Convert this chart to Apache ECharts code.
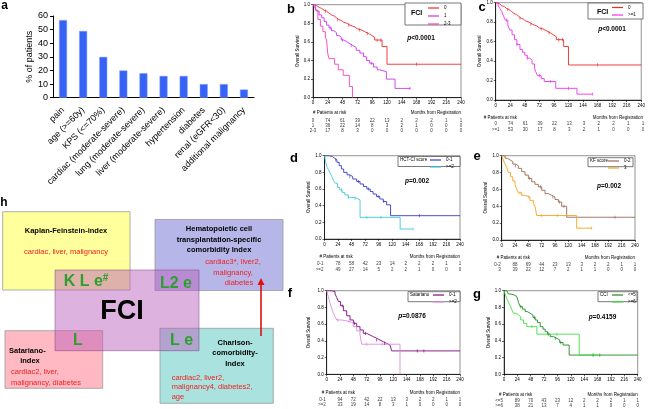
<!DOCTYPE html>
<html><head><meta charset="utf-8">
<script src="https://cdn.jsdelivr.net/npm/echarts/dist/echarts.min.js"></script>
<style>html,body{margin:0;padding:0;background:#fff}#c{width:648px;height:409px}</style>
</head><body><div id="c"></div>
<script>
// ---------------- DATA ----------------
const barCategories = ['pain','age (>=60y)','KPS (<=70%)','cardiac (moderate-severe)','lung (moderate-severe)','liver (moderate-severe)','hypertension','diabetes','renal (eGFR<30)','additional malignancy'];
const barValues = [57,49,30,20,18,16,16,10,10,6];

const monthTicks = [0,24,48,72,96,120,144,168,192,216,240];

// Kaplan-Meier step curves: [months, survival]
const kmB0 = [[0,1],[3,0.99],[6,0.97],[10,0.96],[14,0.94],[18,0.93],[22,0.91],[26,0.89],[30,0.88],[34,0.86],[38,0.84],[42,0.83],[46,0.81],[50,0.80],[55,0.78],[60,0.77],[64,0.76],[68,0.74],[72,0.73],[78,0.71],[84,0.69],[90,0.67],[95,0.65],[100,0.62],[112,0.55],[120,0.36],[240,0.36]];
const kmB1 = [[0,1],[3,0.97],[6,0.93],[10,0.89],[14,0.86],[18,0.82],[22,0.78],[26,0.75],[30,0.72],[34,0.70],[38,0.67],[42,0.65],[46,0.62],[50,0.60],[55,0.58],[60,0.56],[65,0.54],[70,0.51],[76,0.48],[82,0.44],[87,0.40],[92,0.37],[98,0.33],[104,0.30],[108,0.28],[119,0.20],[133,0.10],[158,0.10]];
const kmB2 = [[0,1],[4,0.94],[8,0.84],[12,0.77],[16,0.71],[20,0.65],[22,0.62],[24,0.47],[26,0.42],[35,0.36],[41,0.30],[49,0.24],[59,0.12],[64,0]];
const kmC1 = [[0,1],[4,0.97],[7,0.94],[10,0.91],[13,0.86],[16,0.82],[20,0.77],[23,0.72],[27,0.67],[31,0.62],[35,0.57],[40,0.52],[44,0.49],[48,0.46],[52,0.43],[56,0.41],[60,0.37],[64,0.33],[66,0.29],[69,0.25],[75,0.22],[80,0.19],[99,0.12],[134,0.06],[160,0.06]];
const kmD0 = [[0,1],[8,0.99],[14,0.97],[18,0.95],[22,0.92],[26,0.88],[30,0.84],[34,0.80],[40,0.77],[45,0.75],[50,0.72],[57,0.69],[63,0.66],[69,0.63],[75,0.60],[81,0.57],[86,0.54],[92,0.51],[98,0.48],[104,0.45],[110,0.41],[117,0.28],[240,0.28]];
const kmD1 = [[0,1],[2,0.93],[4,0.87],[7,0.83],[10,0.79],[13,0.75],[16,0.70],[19,0.67],[23,0.62],[27,0.59],[31,0.56],[36,0.53],[42,0.50],[48,0.49],[57,0.47],[63,0.26],[134,0.12],[157,0.12]];
const kmE0 = [[0,1],[6,0.97],[10,0.95],[15,0.93],[20,0.90],[25,0.88],[30,0.85],[36,0.81],[42,0.77],[48,0.73],[54,0.69],[60,0.66],[66,0.63],[72,0.59],[78,0.55],[84,0.53],[90,0.51],[96,0.48],[102,0.45],[108,0.40],[117,0.27],[240,0.27]];
const kmE1 = [[0,1],[3,0.95],[6,0.90],[9,0.86],[12,0.80],[16,0.75],[20,0.70],[24,0.66],[27,0.60],[30,0.56],[36,0.53],[42,0.51],[51,0.47],[57,0.43],[60,0.40],[63,0.29],[135,0.14],[162,0.14]];
const kmF0 = [[0,1],[8,0.99],[15,0.96],[18,0.92],[21,0.87],[25,0.82],[30,0.76],[36,0.70],[42,0.65],[48,0.61],[54,0.57],[60,0.53],[66,0.49],[72,0.47],[78,0.45],[84,0.43],[90,0.41],[96,0.39],[102,0.37],[108,0.35],[114,0.33],[117,0.28],[240,0.28]];
const kmF1 = [[0,1],[3,0.93],[6,0.85],[9,0.79],[12,0.73],[15,0.69],[18,0.65],[27,0.63],[42,0.61],[48,0.57],[54,0.52],[60,0.47],[63,0.36],[132,0]];
const kmG0 = [[0,1],[5,0.98],[8,0.96],[12,0.95],[18,0.93],[23,0.91],[26,0.86],[29,0.81],[33,0.78],[38,0.75],[42,0.73],[47,0.71],[52,0.68],[56,0.65],[60,0.62],[65,0.57],[70,0.54],[74,0.51],[78,0.48],[83,0.45],[89,0.43],[95,0.41],[100,0.38],[106,0.35],[117,0.23],[240,0.23]];
const kmG1 = [[0,1],[3,0.94],[6,0.89],[9,0.85],[12,0.81],[15,0.76],[17,0.73],[22,0.71],[26,0.69],[30,0.65],[35,0.61],[41,0.57],[59,0.48],[135,0.23],[169,0.23]];

// censoring times (months)
const cenB0 = [20,40,58,75,88,104,110,168];
const cenB1 = [28,48,62,95,157];
const cenB2 = [];
const cenC1 = [18,35,52,72,90,120,160];
const cenD0 = [20,45,60,78,95,105,168];
const cenD1 = [30,42,54,75,100,157];
const cenE0 = [25,50,70,92,104,112,204];
const cenE1 = [33,48,72,100,162];
const cenF0 = [28,50,70,90,104,163,175];
const cenF1 = [20,40,72,100];
const cenG0 = [30,55,80,92,102,160,172];
const cenG1 = [50,95,160];

// groups and numbers at risk
const groupsB = ['0','1','2-3'];
const groupsC = ['0','>=1'];
const groupsD = ['0-1','>=2'];
const groupsE = ['0-2','3'];
const groupsF = ['0-1','>=2'];
const groupsG = ['<=5','>=6'];
const riskB0 = [74,61,39,22,13,2,2,2,1,1];
const riskB1 = [36,22,14,8,3,2,1,0,0,0];
const riskB2 = [17,8,3,0,0,0,0,0,0,0];
const riskC0 = [74,61,39,22,13,3,2,2,1,1];
const riskC1 = [53,30,17,8,3,2,1,0,0,0];
const riskD0 = [78,58,42,23,14,2,2,2,1,1];
const riskD1 = [49,27,14,5,2,2,1,0,0,0];
const riskE0 = [88,69,44,23,13,3,2,2,1,1];
const riskE1 = [39,22,12,7,2,1,1,0,0,0];
const riskF0 = [94,72,42,22,13,3,2,2,1,1];
const riskF1 = [33,19,14,8,3,1,0,0,0,0];
const riskG0 = [89,70,43,23,12,2,2,2,1,1];
const riskG1 = [38,21,13,7,4,1,1,0,0,0];

const legendTitles = ['FCI','FCI','HCT-CI score','KF score','Satariano','CCI'];
const pTexts = ['<0.0001','<0.0001','=0.002','=0.002','=0.0876','=0.4159'];

// ---------------- LAYOUT / STYLE ----------------
const FONT = '"Liberation Sans", Arial, sans-serif';
const panels = [
 {id:'b', curves:[kmB0,kmB1,kmB2], cens:[cenB0,cenB1,cenB2], groups:groupsB, risk:[riskB0,riskB1,riskB2],
  colors:['#ee2a2a','#cc33ee','#ee44bb'], grid:{left:313,top:4.7,width:148,height:93}, nameGap:13,
  riskTop:118, riskRow:5, labAlign:'center', hdrY:113, letter:[291,9],
  box:[405,3,56,22], boxTitle:[411,13,7,'bold'], leg:[428,5.5,3], p:[421,38]},
 {id:'c', curves:[kmB0,kmC1], cens:[cenB0,cenC1], groups:groupsC, risk:[riskC0,riskC1],
  colors:['#ee2a2a','#ee33ee'], grid:{left:495.7,top:2.7,width:147.3,height:97.3}, nameGap:13,
  riskTop:121.5, riskRow:5.5, labAlign:'center', hdrY:118, letter:[482,7],
  box:[588,3,55,16], boxTitle:[597,12,7,'bold'], leg:[612,5,2.5], p:[612,29]},
 {id:'d', curves:[kmD0,kmD1], cens:[cenD0,cenD1], groups:groupsD, risk:[riskD0,riskD1],
  colors:['#3a3ac8','#40c8dc'], grid:{left:324.5,top:155.7,width:135.5,height:83.3}, nameGap:13,
  riskTop:261.5, riskRow:5.5, labAlign:'right', hdrY:256.7, letter:[294,158],
  box:[398,156.5,62,10], boxTitle:[400,159.5,4.5,'normal'], leg:[430,157.5,2], p:[417,181.7]},
 {id:'e', curves:[kmE0,kmE1], cens:[cenE0,cenE1], groups:groupsE, risk:[riskE0,riskE1],
  colors:['#9a6a55','#f2a41c'], grid:{left:501.7,top:155.7,width:133.3,height:84.3}, nameGap:12,
  riskTop:262, riskRow:5.5, labAlign:'right', hdrY:257.7, letter:[477,156],
  box:[588,157.7,45,9], boxTitle:[590,160.5,4.5,'normal'], leg:[608,158.5,2], p:[609,186.7]},
 {id:'f', curves:[kmF0,kmF1], cens:[cenF0,cenF1], groups:groupsF, risk:[riskF0,riskF1],
  colors:['#7a0a7a','#dc8cdc'], grid:{left:326.7,top:290.7,width:133.3,height:83.6}, nameGap:15,
  riskTop:396.5, riskRow:5.7, labAlign:'right', hdrY:392.7, letter:[290,293],
  box:[408,291.7,52,10], boxTitle:[410,294.5,4.5,'normal'], leg:[433,292.5,2], p:[412,316.7]},
 {id:'g', curves:[kmG0,kmG1], cens:[cenG0,cenG1], groups:groupsG, risk:[riskG0,riskG1],
  colors:['#1f8a1f','#44dd44'], grid:{left:504,top:290.7,width:133.7,height:83.6}, nameGap:13,
  riskTop:398.5, riskRow:5, labAlign:'right', hdrY:394.5, letter:[477,294],
  box:[598,291.7,39,10], boxTitle:[600,295,4.5,'normal'], leg:[612,292.5,2], p:[602.5,317.3]}
];

function survAt(curve, t){ let s = curve[0][1]; for (const p of curve){ if (p[0] <= t) s = p[1]; } return s; }

const grid = [], xAxis = [], yAxis = [], series = [], legend = [], graphic = [];

// ---- panel a (bar chart)
grid.push({left:53, top:16, width:201, height:81.7});
xAxis.push({gridIndex:0, type:'category', data:barCategories,
  axisLine:{lineStyle:{color:'#000',width:1}}, axisTick:{length:3,lineStyle:{color:'#000'}},
  axisLabel:{rotate:45, fontSize:9, color:'#000', margin:11, interval:0, fontFamily:FONT}});
yAxis.push({gridIndex:0, type:'value', min:0, max:60, interval:10,
  axisLine:{show:true,lineStyle:{color:'#000',width:1}}, axisTick:{show:true,length:3,lineStyle:{color:'#000'}},
  axisLabel:{fontSize:9,color:'#000',margin:5,fontFamily:FONT}, splitLine:{show:false},
  name:'% of patients', nameLocation:'middle', nameGap:19, nameTextStyle:{fontSize:9,color:'#000',fontFamily:FONT}});
series.push({type:'bar', xAxisIndex:0, yAxisIndex:0, data:barValues, barWidth:8,
  itemStyle:{color:'#3663f5', borderColor:'#86a0ff', borderWidth:0.5}});

// ---- KM panels
panels.forEach((P, i) => {
  const k = 1 + i, r = 7 + i;
  grid[k] = Object.assign({show:true, borderColor:'#666', borderWidth:0.7, backgroundColor:'transparent'}, P.grid);
  xAxis[k] = {gridIndex:k, type:'value', min:0, max:240, interval:24,
    axisLine:{show:true,onZero:false,lineStyle:{color:'#000',width:0.8}}, axisTick:{show:true,length:2,lineStyle:{color:'#000',width:0.6}},
    axisLabel:{fontSize:4.5,color:'#000',margin:3,fontFamily:FONT}, splitLine:{show:false}};
  yAxis[k] = {gridIndex:k, type:'value', min:0, max:1, interval:0.2,
    axisLine:{show:true,onZero:false,lineStyle:{color:'#000',width:0.8}}, axisTick:{show:true,length:2,lineStyle:{color:'#000',width:0.6}},
    axisLabel:{fontSize:4.5,color:'#000',margin:3,fontFamily:FONT, formatter:v=>v.toFixed(1)}, splitLine:{show:false},
    name:'Overall Survival', nameLocation:'middle', nameGap:P.nameGap, nameTextStyle:{fontSize:4.5,color:'#000',fontFamily:FONT}};
  const nRows = P.groups.length;
  grid[r] = {left:P.grid.left, width:P.grid.width, top:P.riskTop, height:nRows*P.riskRow};
  xAxis[r] = {gridIndex:r, type:'value', min:0, max:240, show:false};
  yAxis[r] = {gridIndex:r, type:'category', data:P.groups, inverse:true, show:false};

  P.curves.forEach((c, j) => {
    const nm = P.id + ':' + P.groups[j];
    series.push({type:'line', name:nm, xAxisIndex:k, yAxisIndex:k, data:c, step:'end', symbol:'none',
      lineStyle:{color:P.colors[j], width:0.9}, itemStyle:{color:P.colors[j]}, silent:true, z:3});
    series.push({type:'scatter', name:nm + ':cens', xAxisIndex:k, yAxisIndex:k,
      data:P.cens[j].map(t => [t, survAt(c, t)]), symbol:'rect', symbolSize:[0.8,3.2],
      itemStyle:{color:P.colors[j]}, silent:true, z:4});
  });

  const rdata = [];
  P.groups.forEach((g, ri) => {
    rdata.push({value:[0, ri], label:{formatter:g, align:P.labAlign, offset:[P.labAlign==='right'?-1:0,0]}});
    P.risk[ri].forEach((v, vi) => rdata.push({value:[monthTicks[vi+1], ri], label:{formatter:String(v)}}));
  });
  series.push({type:'scatter', xAxisIndex:r, yAxisIndex:r, data:rdata, symbolSize:0, silent:true,
    label:{show:true, position:'inside', fontSize:4.5, color:'#000', fontFamily:FONT}});

  legend.push({data:P.groups.map(g => P.id + ':' + g), formatter:n => n.split(':')[1], orient:'vertical',
    left:P.leg[0], top:P.leg[1], itemGap:P.leg[2], itemWidth:11, itemHeight:1.2, icon:'rect', padding:0, z:20, zlevel:0,
    selectedMode:false, textStyle:{fontSize:4.5, color:'#000', fontFamily:FONT}});

  graphic.push({type:'rect', shape:{x:P.box[0], y:P.box[1], width:P.box[2], height:P.box[3]},
    style:{fill:'#fff', stroke:'#555', lineWidth:0.8}, z:3.5});
  graphic.push({type:'text', x:P.boxTitle[0], y:P.boxTitle[1], z:6,
    style:{text:legendTitles[i], fontSize:P.boxTitle[2], fontWeight:P.boxTitle[3], fill:'#000', fontFamily:FONT, verticalAlign:'middle'}});
  graphic.push({type:'text', x:P.p[0], y:P.p[1], z:6,
    style:{text:'{i|p}{n|' + pTexts[i] + '}', align:'center', verticalAlign:'middle',
      rich:{i:{fontStyle:'italic', fontWeight:'bold', fontSize:6.5, fontFamily:FONT, fill:'#000'},
            n:{fontWeight:'bold', fontSize:6.5, fontFamily:FONT, fill:'#000'}}}});
  graphic.push({type:'text', x:P.letter[0], y:P.letter[1], z:6,
    style:{text:P.id, fontSize:13, fontWeight:'bold', fill:'#000', fontFamily:FONT, align:'center', verticalAlign:'middle'}});
  const hdrX = P.labAlign === 'right' ? P.grid.left - 5 : P.grid.left - (i===1?12:0);
  graphic.push({type:'text', x:hdrX, y:P.hdrY, z:6,
    style:{text:'# Patients at risk', fontSize:4.5, fill:'#000', fontFamily:FONT, verticalAlign:'middle'}});
  graphic.push({type:'text', x:P.grid.left + P.grid.width, y:P.hdrY, z:6,
    style:{text:'Months from Registration', fontSize:4.5, fill:'#000', fontFamily:FONT, align:'right', verticalAlign:'middle'}});
});

// ---- panel letters a, h
graphic.push({type:'text', x:4.5, y:6, style:{text:'a', fontSize:12, fontWeight:'bold', fill:'#000', fontFamily:FONT, align:'center', verticalAlign:'middle'}});
graphic.push({type:'text', x:4, y:203, style:{text:'h', fontSize:12, fontWeight:'bold', fill:'#000', fontFamily:FONT, align:'center', verticalAlign:'middle'}});

// ---- panel h (diagram)
function box(x,y,w,h,fill,z){ graphic.push({type:'rect', z:z||1, shape:{x,y,width:w,height:h}, style:{fill, stroke:'#9a9a9a', lineWidth:0.8}}); }
function txt(x,y,t,o){ graphic.push({type:'text', x, y, z:(o&&o.z)||8, style:Object.assign({text:t, fontFamily:FONT, fontSize:7.5, fill:'#000', align:'center', verticalAlign:'middle'}, o||{})}); }
box(2.7,211.7,127.3,78.3,'#ffff9c');
box(155,219.5,128,71,'#b6b6e8');
box(5,330.7,97.7,57.6,'#ffb9c2');
box(160,328.3,113.3,75,'#a9e2de');
graphic.push({type:'rect', z:2, shape:{x:55,y:270,width:144,height:80.7}, style:{fill:'rgba(185,95,185,0.48)', stroke:'rgba(120,60,120,0.6)', lineWidth:0.8}});

const red = '#ee2222', green = '#2e9e2e';
txt(66,231,'Kaplan-Feinstein-index',{fontWeight:'bold'});
txt(66,252,'cardiac, liver, malignancy',{fill:red});
txt(219,229,'Hematopoietic cell',{fontWeight:'bold'});
txt(219,239.5,'transplantation-specific',{fontWeight:'bold'});
txt(219,250,'comorbidity Index',{fontWeight:'bold'});
txt(233,262,'cardiac3*, liver2,',{fill:red});
txt(233,272.5,'malignancy,',{fill:red});
txt(239,283,'diabetes',{fill:red});
txt(9,350.7,'Satariano-',{fontWeight:'bold', align:'left'});
txt(30,360.7,'index',{fontWeight:'bold'});
txt(11,372.3,'cardiac2, liver,',{fill:red, align:'left'});
txt(11,382.7,'malignancy, diabetes',{fill:red, align:'left'});
txt(235,342.7,'Charlson-',{fontWeight:'bold'});
txt(235,353.3,'comorbidity-',{fontWeight:'bold'});
txt(235,364,'Index',{fontWeight:'bold'});
txt(171.7,377.7,'cardiac2, liver2,',{fill:red, align:'left'});
txt(171.7,387.3,'malignancy4, diabetes2,',{fill:red, align:'left'});
txt(171.7,397.3,'age',{fill:red, align:'left'});
txt(122,311.7,'FCI',{fontWeight:'bold', fontSize:27});
txt(86,281.7,'{g|K L e}{s|#}',{rich:{g:{fontSize:16,fontWeight:'bold',fill:green,fontFamily:FONT},s:{fontSize:10,fontWeight:'bold',fill:green,fontFamily:FONT,verticalAlign:'top',padding:[0,0,6,0]}}});
txt(176,284,'L2 e',{fontSize:16, fontWeight:'bold', fill:green});
txt(78,341,'L',{fontSize:16, fontWeight:'bold', fill:green});
txt(181.5,340.7,'L e',{fontSize:16, fontWeight:'bold', fill:green});
graphic.push({type:'line', z:9, shape:{x1:261,y1:336,x2:261,y2:284}, style:{stroke:'#e01010', lineWidth:1.6}});
graphic.push({type:'polygon', z:9, shape:{points:[[257.5,285],[264.5,285],[261,278]]}, style:{fill:'#e01010'}});

const chart = echarts.init(document.getElementById('c'), null, {renderer:'canvas'});
chart.setOption({animation:false, textStyle:{fontFamily:FONT}, grid, xAxis, yAxis, series, legend, graphic});
</script></body></html>
